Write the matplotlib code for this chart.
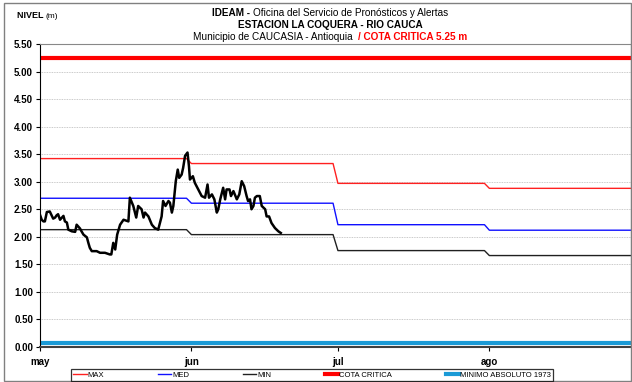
import numpy as np
import matplotlib.pyplot as plt
from matplotlib.patches import Rectangle
from matplotlib.lines import Line2D

# dias contados desde el 1 de mayo
mes_labels = ['may', 'jun', 'jul', 'ago']
mes_inicio = [0, 31, 61, 92]
mes_fin = [30, 60, 91, 122]

nivel_max = [3.42, 3.33, 2.97, 2.88]
nivel_med = [2.70, 2.61, 2.22, 2.12]
nivel_min = [2.13, 2.04, 1.75, 1.66]
cota_critica = 5.25
minimo_1973 = 0.07

# lecturas observadas (dia, nivel)
obs_dia = [0.0, 0.35, 0.7, 1.0, 1.4, 2.0, 2.7, 3.1, 3.4, 3.7, 4.1, 4.8, 5.1, 5.5,
           5.8, 6.5, 7.2, 7.5, 8.2, 8.5, 8.9, 9.6, 9.9, 10.2, 10.6, 11.6, 12.3,
           13.3, 14.3, 14.6, 15.0, 15.4, 15.8, 16.4, 17.1, 18.1, 18.4, 19.1,
           19.7, 20.1, 20.8, 21.2, 21.5, 21.8, 22.2, 22.9, 23.5, 24.2, 24.9,
           25.2, 25.7, 26.3, 26.6, 27.0, 27.3, 27.8, 28.2, 28.5, 29.0, 29.3,
           29.7, 30.2, 30.5, 30.7, 31.3, 31.7, 32.4, 33.1, 33.8, 34.3, 34.6,
           35.2, 35.7, 36.2, 36.5, 36.9, 37.5, 37.9, 38.2, 38.8, 39.1, 39.6,
           40.3, 40.8, 41.3, 41.8, 42.3, 42.6, 43.0, 43.3, 43.7, 44.0, 44.4,
           45.0, 45.4, 46.1, 46.4, 46.9, 47.4, 48.1, 48.8, 49.3]
obs_nivel = [2.40, 2.31, 2.28, 2.28, 2.45, 2.46, 2.33, 2.35, 2.39, 2.41, 2.31,
             2.38, 2.28, 2.26, 2.13, 2.10, 2.09, 2.22, 2.15, 2.10, 2.04, 1.99,
             1.89, 1.80, 1.74, 1.74, 1.71, 1.71, 1.68, 1.68, 1.89, 1.77, 2.04,
             2.22, 2.31, 2.28, 2.71, 2.56, 2.35, 2.56, 2.50, 2.35, 2.44, 2.41,
             2.37, 2.22, 2.16, 2.13, 2.37, 2.65, 2.56, 2.65, 2.62, 2.44, 2.56,
             3.01, 3.22, 3.07, 3.13, 3.25, 3.47, 3.53, 3.28, 3.04, 3.10, 2.98,
             2.86, 2.74, 2.71, 2.95, 2.71, 2.77, 2.68, 2.44, 2.50, 2.68, 2.89,
             2.68, 2.86, 2.86, 2.74, 2.83, 2.68, 2.77, 3.01, 2.92, 2.74, 2.65,
             2.68, 2.50, 2.56, 2.71, 2.74, 2.74, 2.56, 2.50, 2.37, 2.37, 2.25,
             2.16, 2.10, 2.07]


def escalon(valores):
    xs, ys = [], []
    for a, b, v in zip(mes_inicio, mes_fin, valores):
        xs += [a, b]
        ys += [v, v]
    return xs, ys


fnarrow = ['Liberation Sans Narrow', 'Liberation Sans', 'DejaVu Sans']
fnormal = ['Liberation Sans', 'DejaVu Sans']

fig = plt.figure(figsize=(6.32, 3.82), dpi=100)
ax = fig.add_axes([40 / 632, 1 - 347 / 382, 591 / 632, 303 / 382])

ax.plot(*escalon(nivel_max), color='#ff2020', lw=1.0)
ax.plot(*escalon(nivel_med), color='#1010ff', lw=1.0)
ax.plot(*escalon(nivel_min), color='#202020', lw=1.0)
ax.axhline(cota_critica, color='#ff0000', lw=3)
ax.axhline(minimo_1973, color='#1a9ad6', lw=3)
ax.plot(obs_dia, obs_nivel, color='black', lw=1.8)

ax.set_xlim(0, 121)
ax.set_ylim(0, 5.5)
ax.set_yticks(np.arange(0, 5.51, 0.5))
ax.set_yticklabels(['%.2f' % v for v in np.arange(0, 5.51, 0.5)],
                   fontsize=7, fontweight='bold', family=fnormal)
ax.set_xticks(mes_inicio)
ax.set_xticklabels(mes_labels, fontsize=7, fontweight='bold', family=fnormal)
ax.tick_params(axis='both', direction='out', length=3, width=0.8, pad=2)
ax.tick_params(axis='x', pad=4)
ax.yaxis.grid(True, color='#b8b8b8', lw=0.6, ls=(0, (1, 1)))
for s in ['top', 'right']:
    ax.spines[s].set_color('#888888')
    ax.spines[s].set_linewidth(0.8)
ax.spines['left'].set_color('black')
ax.spines['bottom'].set_color('#404040')
ax.spines['bottom'].set_linewidth(1.5)

# marco exterior
fig.patches.append(Rectangle((4 / 632, 0.002), 627 / 632, 1 - 4 / 382, transform=fig.transFigure,
                             fill=False, edgecolor='#808080', lw=1.0))

renderer = fig.canvas.get_renderer()


def linea_mixta(partes, y, cx=330 / 632, size=7.2):
    # partes: (texto, negrita, color)
    objs = []
    for txt, bold, col in partes:
        t = fig.text(0, y, txt, fontsize=size, family=fnarrow,
                     fontweight='bold' if bold else 'normal', color=col,
                     va='center', ha='left')
        objs.append(t)
    anchos = [t.get_window_extent(renderer).width / fig.bbox.width for t in objs]
    x = cx - sum(anchos) / 2
    for t, w in zip(objs, anchos):
        t.set_x(x)
        x += w


linea_mixta([('IDEAM - ', True, 'black'),
             ('Oficina del Servicio de Pronósticos y Alertas', False, 'black')], 1 - 13 / 382)
linea_mixta([('ESTACION LA COQUERA - RIO CAUCA', True, 'black')], 1 - 24.5 / 382)
linea_mixta([('Municipio de CAUCASIA - Antioquia  ', False, 'black'),
             ('/ COTA CRITICA 5.25 m', True, '#ff0000')], 1 - 36.5 / 382)

t1 = fig.text(17 / 632, 1 - 16 / 382, 'NIVEL ', fontsize=6.5, fontweight='bold',
              family=fnarrow, va='center')
w1 = t1.get_window_extent(renderer).width / fig.bbox.width
fig.text(17 / 632 + w1, 1 - 16 / 382, '(m)', fontsize=6, family=fnarrow, va='center')

handles = [Line2D([], [], color='#ff2020', lw=1.0),
           Line2D([], [], color='#1010ff', lw=1.0),
           Line2D([], [], color='#202020', lw=1.0),
           Line2D([], [], color='#ff0000', lw=3),
           Line2D([], [], color='#1a9ad6', lw=3)]
nombres = ['MAX', 'MED', 'MIN', 'COTA CRITICA', 'MINIMO ABSOLUTO 1973']
leg = fig.legend(handles, nombres, ncol=5, loc='center', bbox_to_anchor=(312 / 632, 1 - 375 / 382),
                 prop={'family': fnarrow, 'size': 5.5}, frameon=True, fancybox=False,
                 handlelength=1.8, handletextpad=0.1, columnspacing=7.0,
                 borderpad=0.25, borderaxespad=0)
leg.get_frame().set_edgecolor('black')
leg.get_frame().set_linewidth(0.9)

fig.savefig('out.png', dpi=100)
